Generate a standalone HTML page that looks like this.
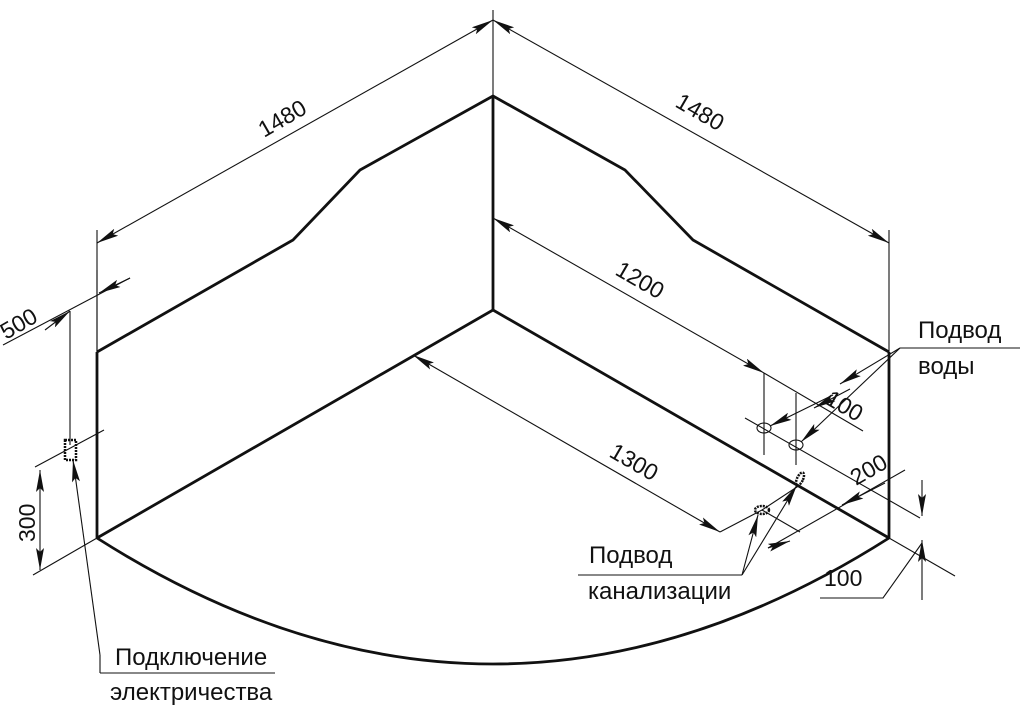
<!DOCTYPE html>
<html><head><meta charset="utf-8"><style>
html,body{margin:0;padding:0;background:#fff}
svg{display:block}
text{font-family:"Liberation Sans",sans-serif;font-size:23px;fill:#111}
.l{font-size:24px}
</style></head><body>
<svg width="1023" height="707" viewBox="0 0 1023 707" xmlns="http://www.w3.org/2000/svg">
<defs>
<marker id="a" viewBox="0 0 22 8" refX="22" refY="4" markerWidth="22" markerHeight="8" markerUnits="userSpaceOnUse" orient="auto-start-reverse">
<path d="M0,0 L22,4 L0,8 L4,4 Z" fill="#111"/></marker>
</defs>
<g stroke="#111" fill="none">
<g stroke-width="2.8">
<path d="M97,352 L293,240 L360,170 L493,96 L625,170 L693,240 L889,352"/>
<path d="M97,352 L97,538 M493,96 L493,310 M889,352 L889,538"/>
<path d="M97,538 L493,310 L889,538"/>
<path d="M97,538 Q493,790 889,538"/>
</g>
<g stroke-width="1.1">
<path d="M97,230 L97,352 M493,10 L493,96 M889,230 L889,352"/>
<path d="M97,243 L493,20" marker-start="url(#a)" marker-end="url(#a)"/>
<path d="M493,20 L889,243" marker-start="url(#a)" marker-end="url(#a)"/>
<path d="M493,218 L764,373" marker-start="url(#a)" marker-end="url(#a)"/>
<path d="M764,373 L863,431"/>
<path d="M413,355 L720,532" marker-start="url(#a)" marker-end="url(#a)"/>
<path d="M720,532 L762,510 L800,485"/>
<path d="M764,373 L764,455 M796,393 L796,465"/>
<path d="M745,418 L920,518"/>
<ellipse cx="764" cy="428" rx="7" ry="5"/>
<ellipse cx="796" cy="445" rx="7" ry="5"/>
<path d="M833,395 L770,426" marker-end="url(#a)"/>
<path d="M900,348 L801,442" marker-end="url(#a)"/>
<path d="M900,348 L840,384" marker-end="url(#a)"/>
<path d="M814,408 L850,389" marker-start="url(#a)"/>
<path d="M900,348 L1020,348"/>
<path d="M762,510 L800,532"/>
<path d="M768,548 L905,470"/>
<path d="M768,548 L790,541" marker-end="url(#a)"/>
<path d="M885,483 L842,505" marker-end="url(#a)"/>
<path d="M889,538 L955,576"/>
<path d="M922,480 L922,516" marker-end="url(#a)"/>
<path d="M922,600 L922,540" marker-end="url(#a)"/>
<path d="M820,598 L883,598 L922,543"/>
<ellipse cx="762" cy="510" rx="7" ry="4" stroke-width="2.5" stroke-dasharray="2 1"/>
<ellipse cx="800" cy="479" rx="3" ry="7" stroke-width="2.5" stroke-dasharray="2 1" transform="rotate(25 800 479)"/>
<path d="M742,575 L758,515" marker-end="url(#a)"/>
<path d="M742,575 L797,485" marker-end="url(#a)"/>
<path d="M578,575 L742,575"/>
<path d="M3,345 L130,278"/>
<path d="M45,330 L70,311" marker-end="url(#a)"/>
<path d="M130,278 L99,293" marker-end="url(#a)"/>
<path d="M97,270 L97,352 M70,311 L70,445"/>
<path d="M35,467 L104,430 M33,575 L97,538"/>
<path d="M40,470 L40,570" marker-start="url(#a)" marker-end="url(#a)"/>
<rect x="65" y="440" width="11" height="20" stroke-width="2.5" stroke-dasharray="2 1"/>
<path d="M100,655 L73,460" marker-end="url(#a)"/>
<path d="M100,655 L100,673 M100,673 L275,673"/>
</g>
</g>
<text transform="translate(264,138) rotate(-30)">1480</text>
<text transform="translate(674,106) rotate(30)">1480</text>
<text transform="translate(614,274) rotate(30)">1200</text>
<text transform="translate(608,456) rotate(30)">1300</text>
<text transform="translate(824,403) rotate(30)">100</text>
<text transform="translate(856,486) rotate(-30)">200</text>
<text transform="translate(6,340) rotate(-30)">500</text>
<text transform="translate(35,542) rotate(-90)">300</text>
<text x="824" y="586">100</text>
<text class="l" x="918" y="338">Подвод</text>
<text class="l" x="918" y="374">воды</text>
<text class="l" x="589" y="563">Подвод</text>
<text class="l" x="588" y="599">канализации</text>
<text class="l" x="115" y="665">Подключение</text>
<text class="l" x="110" y="700">электричества</text>
</svg>
</body></html>
